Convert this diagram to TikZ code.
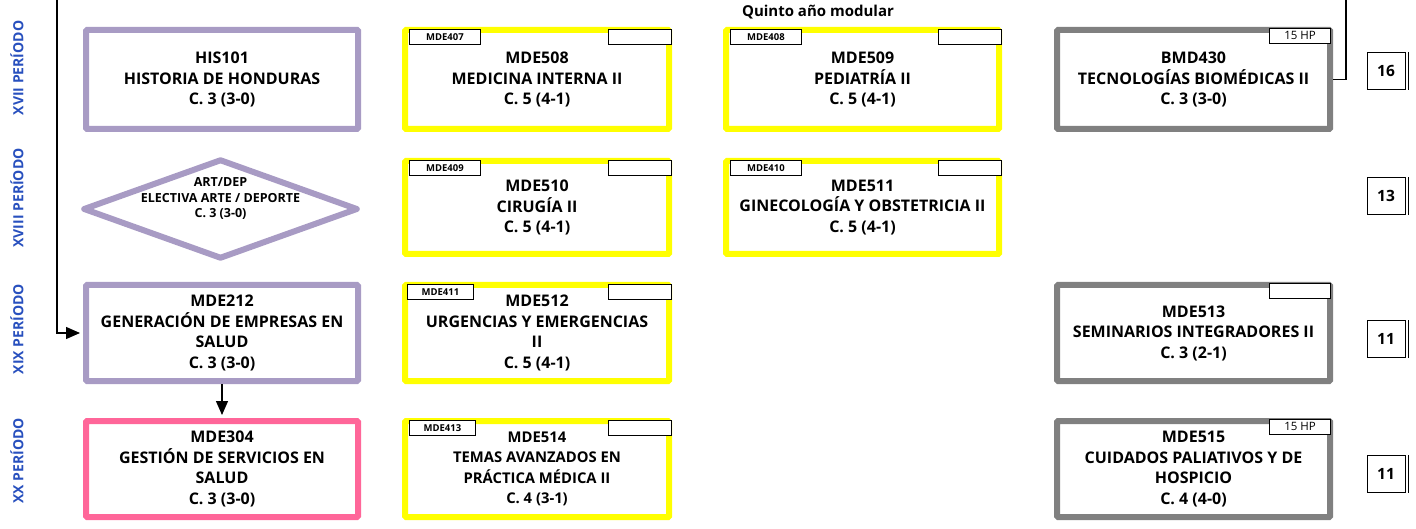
\documentclass[tikz,border=0pt]{standalone}
\usepackage{fontspec}
\setmainfont{Open Sans}
\usetikzlibrary{positioning, shapes.geometric, arrows.meta}
\definecolor{lila}{RGB}{168,155,196}
\definecolor{rosa}{RGB}{255,102,153}
\definecolor{amarillo}{RGB}{255,255,0}
\definecolor{gris}{RGB}{128,128,128}
\definecolor{azul}{RGB}{40,80,190}
\begin{document}
\begin{tikzpicture}[x=1pt, y=-1pt,
    every node/.style={align=center, inner sep=0pt, font=\bfseries\fontsize{16}{20.5}\selectfont},
    curso/.style={draw=#1, line width=6pt, rounded corners=1pt, minimum width=272pt, minimum height=96pt},
    etiq/.style={draw, line width=0.8pt, fill=white, minimum height=15pt, font=\bfseries\fontsize{9.5}{10}\selectfont},
    hp/.style={etiq, anchor=north east, minimum width=61pt, font=\fontsize{11.5}{12}\selectfont},
    periodo/.style={rotate=90, text=azul, font=\bfseries\fontsize{14}{15}\selectfont},
    creditos/.style={draw, line width=0.8pt, minimum width=38pt, minimum height=37pt, font=\bfseries\fontsize{15.5}{16}\selectfont},
    flecha/.style={line width=1.3pt, -{Triangle[length=14pt, width=12pt]}, shorten >=3pt},
    linea/.style={line width=1.3pt}]
\useasboundingbox (0,0) rectangle (1416,529);

\node[periodo] (p17) at (17,68) {XVII PERÍODO};
\node[periodo] (p18) at (17,198) {XVIII PERÍODO};
\node[periodo] (p19) at (17,329) {XIX PERÍODO};
\node[periodo] (p20) at (17,461) {XX PERÍODO};

\node[font=\bfseries\fontsize{15}{16}\selectfont] (quinto) at (818,12) {Quinto año modular};

% primera fila
\node[curso=lila, minimum height=99pt] (his101) at (222,79.5) {HIS101\\HISTORIA DE HONDURAS\\C. 3 (3-0)};
\node[curso=amarillo, minimum width=264pt, minimum height=99pt] (mde508) at (537,79.5) {MDE508\\MEDICINA INTERNA II\\C. 5 (4-1)};
\node[curso=amarillo, minimum width=273pt, minimum height=99pt] (mde509) at (862.5,79.5) {MDE509\\PEDIATRÍA II\\C. 5 (4-1)};
\node[curso=gris, minimum width=273pt, minimum height=99pt] (bmd430) at (1193.5,79.5) {BMD430\\TECNOLOGÍAS BIOMÉDICAS II\\C. 3 (3-0)};

% segunda fila
\node[diamond, draw=lila, line width=6pt, line join=round, minimum width=275pt, minimum height=100pt] (artdep) at (220.5,209) {};
\node[font=\bfseries\fontsize{12.5}{15.5}\selectfont] (artdeptxt) at ([yshift=10pt]artdep.center) {ART/DEP\\ELECTIVA ARTE / DEPORTE\\C. 3 (3-0)};
\node[curso=amarillo, minimum width=264pt, minimum height=93pt] (mde510) at (537,207.5) {MDE510\\CIRUGÍA II\\C. 5 (4-1)};
\node[curso=amarillo, minimum width=273pt, minimum height=93pt] (mde511) at (862.5,207.5) {MDE511\\GINECOLOGÍA Y OBSTETRICIA II\\C. 5 (4-1)};

% tercera fila
\node[curso=lila] (mde212) at (222,333) {MDE212\\GENERACIÓN DE EMPRESAS EN\\SALUD\\C. 3 (3-0)};
\node[curso=amarillo, minimum width=264pt] (mde512) at (537,333) {MDE512\\URGENCIAS Y EMERGENCIAS\\II\\C. 5 (4-1)};
\node[curso=gris, minimum width=273pt] (mde513) at (1193.5,333) {MDE513\\SEMINARIOS INTEGRADORES II\\C. 3 (2-1)};

% cuarta fila
\node[curso=rosa] (mde304) at (222,469) {MDE304\\GESTIÓN DE SERVICIOS EN\\SALUD\\C. 3 (3-0)};
\node[curso=amarillo, minimum width=264pt, font=\bfseries\fontsize{14.8}{20.5}\selectfont] (mde514) at (537,469) {MDE514\\TEMAS AVANZADOS EN\\PRÁCTICA MÉDICA II\\C. 4 (3-1)};
\node[curso=gris, minimum width=273pt] (mde515) at (1193.5,469) {MDE515\\CUIDADOS PALIATIVOS Y DE\\HOSPICIO\\C. 4 (4-0)};

% etiquetas
\node[etiq, anchor=north west, minimum width=71pt] (t508) at ([xshift=7pt, yshift=-2pt]mde508.north west) {MDE407};
\node[etiq, anchor=north east, minimum width=63pt] (r508) at ([yshift=-2pt]mde508.north east) {};
\node[etiq, anchor=north west, minimum width=71pt] (t509) at ([xshift=7pt, yshift=-2pt]mde509.north west) {MDE408};
\node[etiq, anchor=north east, minimum width=63pt] (r509) at ([yshift=-2pt]mde509.north east) {};
\node[etiq, anchor=north west, minimum width=71pt] (t510) at ([xshift=7pt, yshift=-2pt]mde510.north west) {MDE409};
\node[etiq, anchor=north east, minimum width=63pt] (r510) at ([yshift=-2pt]mde510.north east) {};
\node[etiq, anchor=north west, minimum width=71pt] (t511) at ([xshift=7pt, yshift=-2pt]mde511.north west) {MDE410};
\node[etiq, anchor=north east, minimum width=63pt] (r511) at ([yshift=-2pt]mde511.north east) {};
\node[etiq, anchor=north west, minimum width=66pt] (t512) at ([xshift=5pt, yshift=-2pt]mde512.north west) {MDE411};
\node[etiq, anchor=north east, minimum width=63pt] (r512) at ([yshift=-2pt]mde512.north east) {};
\node[etiq, anchor=north west, minimum width=66pt] (t514) at ([xshift=7pt, yshift=-2pt]mde514.north west) {MDE413};
\node[etiq, anchor=north east, minimum width=63pt] (r514) at ([yshift=-2pt]mde514.north east) {};
\node[hp] (hp430) at ([xshift=-2pt, yshift=-1pt]bmd430.north east) {15 HP};
\node[hp] (hp513) at ([xshift=-2pt, yshift=-1pt]mde513.north east) {};
\node[hp] (hp515) at ([xshift=-2pt, yshift=-1pt]mde515.north east) {15 HP};

% creditos
\foreach \nombre/\y/\num in {c17/71/16, c18/196/13, c19/339/11, c20/474/11}{
  \node[creditos] (\nombre) at (1386,\y) {\num};
  \draw[line width=0.8pt] ([xshift=2.5pt]\nombre.north east) -- ([xshift=2.5pt]\nombre.south east);
}

% conexiones
\coordinate (arribaizq) at (57,0);
\coordinate (arribader) at (1346,0);
\draw[flecha] (arribaizq) |- (mde212.west);
\draw[flecha] (mde212.south) -- (mde304.north);
\draw[linea] (bmd430.east) -| (arribader);
\end{tikzpicture}
\end{document}
